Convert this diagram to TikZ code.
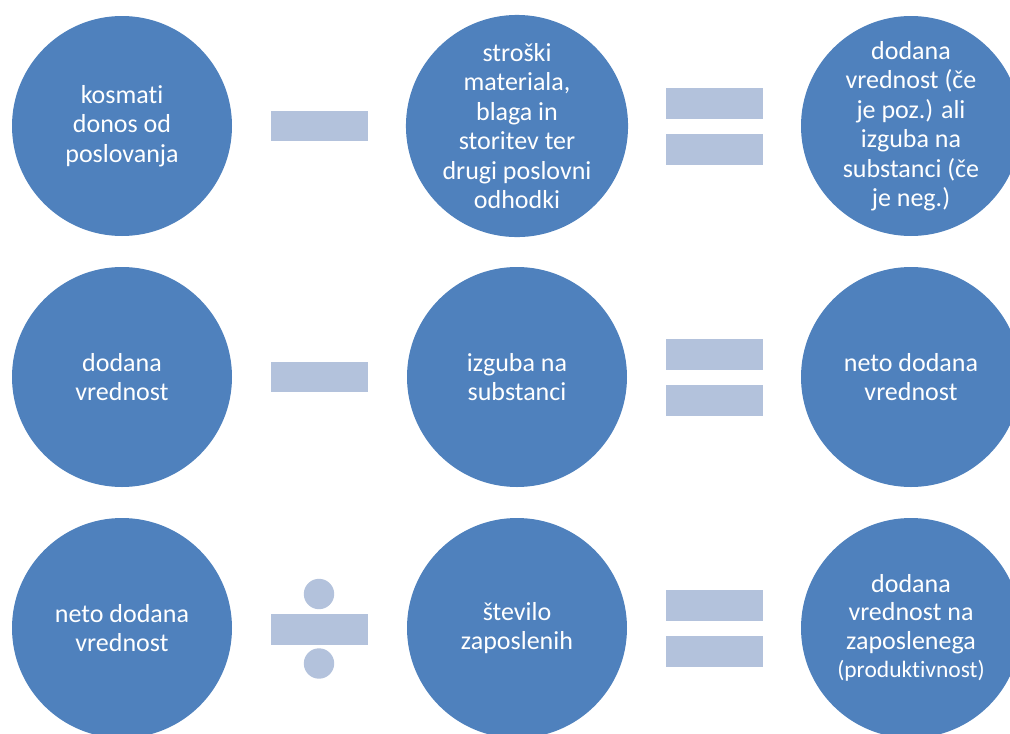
\documentclass[tikz,border=0pt]{standalone}
\usepackage{fontspec}
\setmainfont[Ligatures={NoCommon}]{Carlito}
\definecolor{circ}{HTML}{4F81BD}
\definecolor{sym}{HTML}{B3C2DC}
\begin{document}
\begin{tikzpicture}[x=1pt,y=-1pt,
  bubble/.style={circle,fill=circ,draw=none,minimum size=220pt,inner sep=0pt,
    text=white,align=center,font=\fontsize{26}{29.5}\selectfont},
  symbar/.style={fill=sym,draw=none}]
\useasboundingbox (0,0) rectangle (1010,734);
\clip (0,0) rectangle (1010,734);
% row 1
\node[bubble] (a1) at (122,126) {kosmati\\donos od\\poslovanja};
\node[bubble] (b1) at (517,126) {stroški\\materiala,\\blaga in\\storitev ter\\drugi poslovni\\odhodki};
\node[bubble] (c1) at (911,126) {dodana\\vrednost (če\\je poz.) ali\\izguba na\\substanci (če\\je neg.)};
\fill[symbar] (271,111) rectangle (368,141);
\fill[symbar] (666,87.5) rectangle (763,118.5);
\fill[symbar] (666,133.5) rectangle (763,164.5);
% row 2
\node[bubble] (a2) at (122,377) {dodana\\vrednost};
\node[bubble] (b2) at (517,377) {izguba na\\substanci};
\node[bubble] (c2) at (911,377) {neto dodana\\vrednost};
\fill[symbar] (271,362) rectangle (368,392);
\fill[symbar] (666,338.5) rectangle (763,369.5);
\fill[symbar] (666,384.5) rectangle (763,415.5);
% row 3
\node[bubble,font=\fontsize{26}{28.5}\selectfont] (c3) at (911,628) {dodana\\vrednost na\\zaposlenega\\{\fontsize{23.5}{28.5}\selectfont (produktivnost)}};
\node[bubble] (a3) at (122,628) {neto dodana\\vrednost};
\node[bubble] (b3) at (517,628) {število\\zaposlenih};
\fill[symbar] (271,613.5) rectangle (368,644.5);
\fill[symbar] (319,594) circle (15.2);
\fill[symbar] (319,663.5) circle (15.2);
\fill[symbar] (666,590) rectangle (763,621);
\fill[symbar] (666,636) rectangle (763,667);
\end{tikzpicture}
\end{document}
